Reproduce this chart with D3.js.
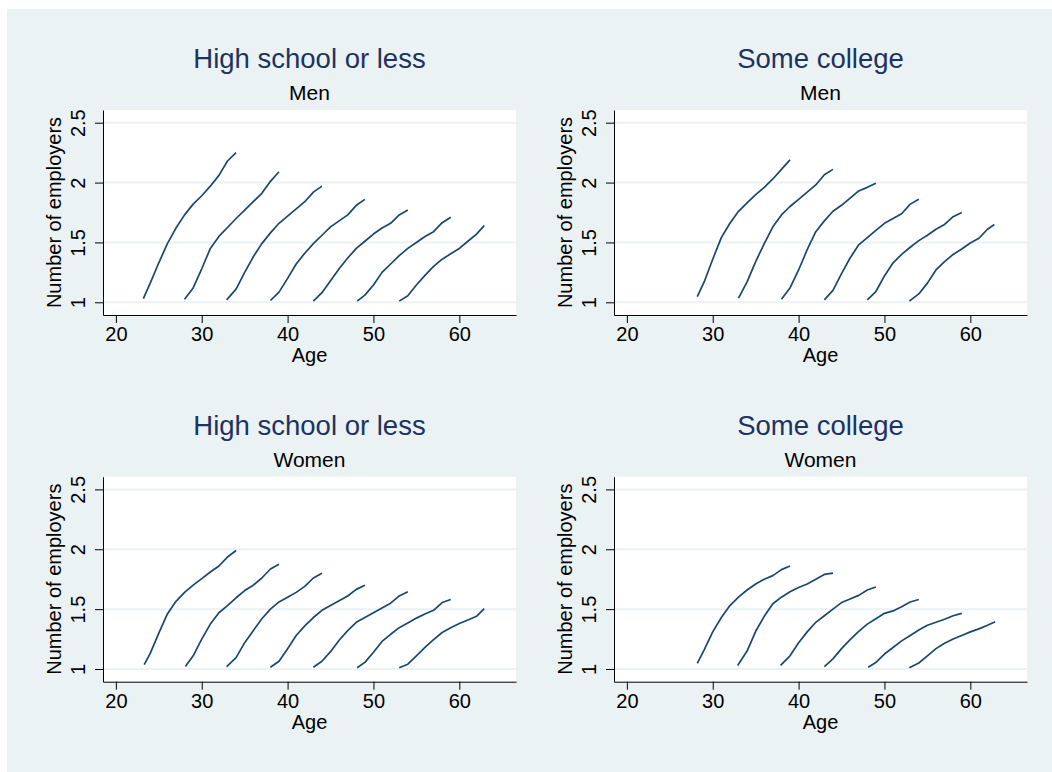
<!DOCTYPE html>
<html>
<head>
<meta charset="utf-8">
<script src="https://cdn.jsdelivr.net/npm/d3@7"></script>
<style>
  html, body { margin: 0; padding: 0; background: #ffffff; }
  svg { display: block; font-family: "Liberation Sans", Arial, Helvetica, sans-serif; }
</style>
</head>
<body>
<svg id="chart" width="1052" height="772"></svg>
<script>
// ---------------- data ----------------
const panelTitles = ["High school or less", "Some college", "High school or less", "Some college"];
const panelSubtitles = ["Men", "Men", "Women", "Women"];
const xTickValues = [20, 30, 40, 50, 60];
const xTickLabels = ["20", "30", "40", "50", "60"];
const yTickValues = [1, 1.5, 2, 2.5];
const yTickLabels = ["1", "1.5", "2", "2.5"];
const xAxisTitle = "Age";
const yAxisTitle = "Number of employers";

// each cohort: [age, number of employers]
const hsMen = [
  [[23.2,1.03],[24,1.16],[25,1.33],[26,1.49],[27,1.62],[28,1.73],[29,1.82],[30,1.89],[31,1.97],[32,2.06],[33,2.18],[34,2.25]],
  [[28.0,1.025],[29,1.12],[30,1.28],[31,1.45],[32,1.55],[33,1.625],[34,1.70],[35,1.77],[36,1.84],[37,1.91],[38,2.01],[39,2.09]],
  [[32.9,1.02],[34,1.11],[35,1.25],[36,1.38],[37,1.49],[38,1.58],[39,1.66],[40,1.72],[41,1.78],[42,1.84],[43,1.92],[44,1.97]],
  [[38.0,1.015],[39,1.085],[40,1.20],[41,1.32],[42,1.41],[43,1.49],[44,1.56],[45,1.63],[46,1.68],[47,1.73],[48,1.81],[49,1.86]],
  [[43.0,1.01],[44,1.08],[45,1.18],[46,1.28],[47,1.37],[48,1.45],[49,1.51],[50,1.57],[51,1.62],[52,1.66],[53,1.73],[54,1.77]],
  [[48.1,1.01],[49,1.06],[50,1.145],[51,1.25],[52,1.32],[53,1.39],[54,1.45],[55,1.50],[56,1.55],[57,1.59],[58,1.665],[59,1.71]],
  [[53.0,1.01],[54,1.055],[55,1.145],[56,1.225],[57,1.30],[58,1.36],[59,1.405],[60,1.45],[61,1.51],[62,1.57],[62.9,1.64]]
];
const collegeMen = [
  [[28.2,1.047],[29,1.17],[30,1.36],[31,1.54],[32,1.66],[33,1.76],[34,1.83],[35,1.90],[36,1.96],[37,2.03],[38,2.11],[39,2.19]],
  [[33.0,1.035],[34,1.17],[35,1.34],[36,1.49],[37,1.63],[38,1.73],[39,1.80],[40,1.86],[41,1.92],[42,1.98],[43,2.065],[44,2.11]],
  [[38.0,1.025],[39,1.12],[40,1.27],[41,1.44],[42,1.59],[43,1.68],[44,1.76],[45,1.81],[46,1.87],[47,1.93],[48,1.96],[49,1.995]],
  [[43.0,1.02],[44,1.10],[45,1.24],[46,1.37],[47,1.48],[48,1.54],[49,1.60],[50,1.66],[51,1.70],[52,1.74],[53,1.82],[54,1.86]],
  [[48.0,1.02],[49,1.09],[50,1.22],[51,1.33],[52,1.40],[53,1.46],[54,1.515],[55,1.56],[56,1.61],[57,1.65],[58,1.715],[59,1.75]],
  [[52.9,1.01],[54,1.07],[55,1.16],[56,1.27],[57,1.34],[58,1.40],[59,1.445],[60,1.495],[61,1.535],[62,1.61],[62.8,1.65]]
];
const hsWomen = [
  [[23.3,1.036],[24,1.13],[25,1.30],[26,1.46],[27,1.565],[28,1.64],[29,1.70],[30,1.755],[31,1.81],[32,1.86],[33,1.935],[34,1.99]],
  [[28.1,1.02],[29,1.11],[30,1.25],[31,1.375],[32,1.47],[33,1.53],[34,1.595],[35,1.655],[36,1.70],[37,1.76],[38,1.835],[39,1.875]],
  [[32.9,1.02],[34,1.095],[35,1.22],[36,1.32],[37,1.42],[38,1.50],[39,1.56],[40,1.60],[41,1.64],[42,1.69],[43,1.76],[44,1.80]],
  [[38.0,1.015],[39,1.065],[40,1.17],[41,1.28],[42,1.36],[43,1.43],[44,1.49],[45,1.53],[46,1.57],[47,1.61],[48,1.665],[49,1.70]],
  [[43.0,1.015],[44,1.065],[45,1.145],[46,1.24],[47,1.32],[48,1.39],[49,1.43],[50,1.47],[51,1.51],[52,1.55],[53,1.61],[54,1.645]],
  [[48.1,1.01],[49,1.055],[50,1.14],[51,1.23],[52,1.29],[53,1.345],[54,1.385],[55,1.425],[56,1.46],[57,1.49],[58,1.555],[59,1.58]],
  [[53.0,1.01],[54,1.04],[55,1.11],[56,1.18],[57,1.245],[58,1.305],[59,1.345],[60,1.38],[61,1.41],[62,1.44],[62.9,1.505]]
];
const collegeWomen = [
  [[28.2,1.047],[29,1.16],[30,1.31],[31,1.43],[32,1.53],[33,1.60],[34,1.66],[35,1.71],[36,1.75],[37,1.78],[38,1.83],[39,1.86]],
  [[32.9,1.03],[34,1.15],[35,1.315],[36,1.44],[37,1.545],[38,1.60],[39,1.645],[40,1.68],[41,1.71],[42,1.75],[43,1.79],[44,1.80]],
  [[37.9,1.03],[39,1.11],[40,1.22],[41,1.31],[42,1.39],[43,1.445],[44,1.50],[45,1.555],[46,1.585],[47,1.615],[48,1.66],[49,1.685]],
  [[43.0,1.02],[44,1.085],[45,1.17],[46,1.245],[47,1.315],[48,1.375],[49,1.42],[50,1.465],[51,1.485],[52,1.52],[53,1.56],[54,1.58]],
  [[48.1,1.015],[49,1.055],[50,1.125],[51,1.18],[52,1.235],[53,1.28],[54,1.325],[55,1.365],[56,1.39],[57,1.415],[58,1.445],[59,1.465]],
  [[52.9,1.01],[54,1.05],[55,1.11],[56,1.17],[57,1.215],[58,1.25],[59,1.28],[60,1.31],[61,1.335],[62,1.365],[62.9,1.395]]
];
const panelData = [hsMen, collegeMen, hsWomen, collegeWomen];

// ---------------- layout ----------------
const svg = d3.select("#chart");
const BG = "#eaf2f3";
const LINE = "#1a476f";
const TITLE = "#1e3262";
const FONT = "Liberation Sans, Arial, Helvetica, sans-serif";
const W = 413, H = 205;
const origins = [[103, 110], [614, 110], [103, 476.7], [614, 476.7]];

svg.append("rect").attr("x", 7).attr("y", 9).attr("width", 1052 - 7).attr("height", 772 - 9).attr("fill", BG);

const x = d3.scaleLinear().domain([18.5, 66.6]).range([0, W]);
const y = d3.scaleLinear().domain([0.894, 2.606]).range([H, 0]);
const line = d3.line().x(d => x(d[0])).y(d => y(d[1]));

panelData.forEach((cohorts, i) => {
  const g = svg.append("g").attr("transform", `translate(${origins[i][0]},${origins[i][1]})`);
  g.append("rect").attr("width", W).attr("height", H).attr("fill", "#ffffff");

  g.selectAll("line.grid").data(yTickValues).enter().append("line")
    .attr("class", "grid")
    .attr("x1", 0).attr("x2", W)
    .attr("y1", d => y(d)).attr("y2", d => y(d))
    .attr("stroke", BG).attr("stroke-width", 2);

  g.selectAll("path.cohort").data(cohorts).enter().append("path")
    .attr("class", "cohort")
    .attr("d", line)
    .attr("fill", "none")
    .attr("stroke", LINE)
    .attr("stroke-width", 1.7)
    .attr("stroke-linejoin", "round");

  const xa = g.append("g").attr("transform", `translate(0,${H})`)
    .call(d3.axisBottom(x).tickValues(xTickValues)
      .tickFormat((d, k) => xTickLabels[k])
      .tickSize(8).tickSizeOuter(0).tickPadding(4));
  xa.selectAll("text").attr("font-size", 20).attr("fill", "#000").style("font-family", FONT);
  xa.selectAll("line").attr("stroke", "#000");
  xa.select(".domain").attr("stroke", "#000");

  const ya = g.append("g")
    .call(d3.axisLeft(y).tickValues(yTickValues)
      .tickFormat((d, k) => yTickLabels[k])
      .tickSize(8).tickSizeOuter(0));
  ya.selectAll("text")
    .attr("x", null).attr("dy", null)
    .attr("text-anchor", "middle")
    .attr("transform", "translate(-18,0) rotate(-90)")
    .attr("font-size", 20).attr("fill", "#000").style("font-family", FONT);
  ya.selectAll("line").attr("stroke", "#000");
  ya.select(".domain").attr("stroke", "#000");

  g.append("text").attr("x", W / 2).attr("y", H + 47)
    .attr("text-anchor", "middle").attr("font-size", 20).attr("fill", "#000")
    .text(xAxisTitle);

  g.append("text")
    .attr("transform", `translate(-42,${H / 2}) rotate(-90)`)
    .attr("text-anchor", "middle").attr("font-size", 20).attr("fill", "#000")
    .text(yAxisTitle);

  g.append("text").attr("x", W / 2).attr("y", -41.7)
    .attr("text-anchor", "middle").attr("font-size", 27.5).attr("fill", TITLE)
    .text(panelTitles[i]);

  g.append("text").attr("x", W / 2).attr("y", -10)
    .attr("text-anchor", "middle").attr("font-size", 21).attr("fill", "#000")
    .text(panelSubtitles[i]);
});
</script>
</body>
</html>
